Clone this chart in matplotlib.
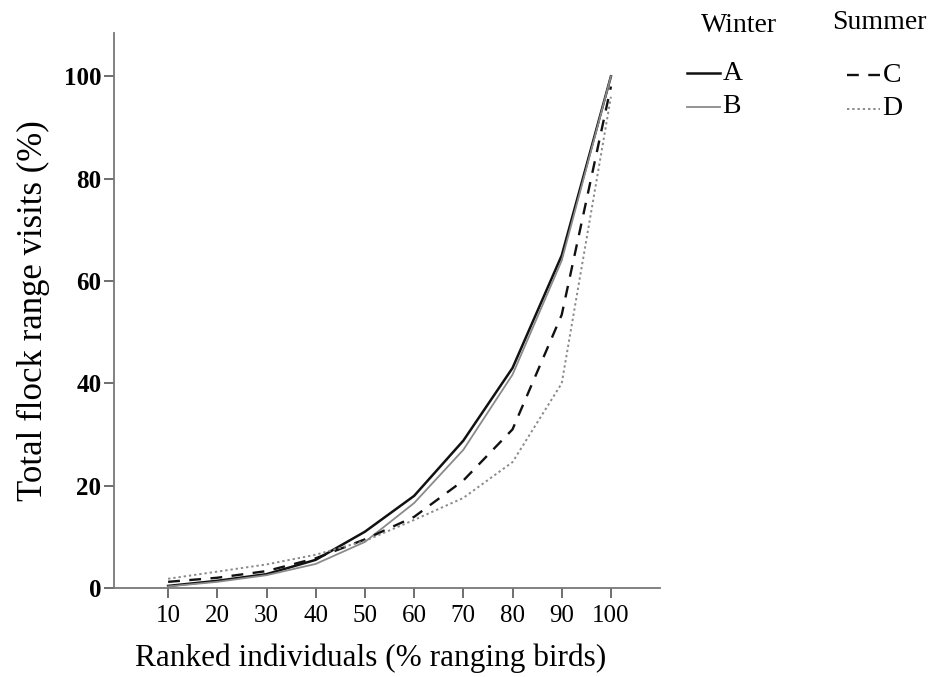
import matplotlib.pyplot as plt
from matplotlib.lines import Line2D

plt.rcParams['font.family'] = ['Liberation Serif', 'DejaVu Serif']

# 鸟类排名百分比
ranked = [10, 20, 30, 40, 50, 60, 70, 80, 90, 100]
# 冬季
winter_a = [0.4, 1.4, 2.7, 5.5, 11, 18, 28.8, 43, 65, 100]
winter_b = [0.3, 1.2, 2.5, 4.7, 9, 16.6, 27, 41.7, 64, 100]
# 夏季
summer_c = [1.2, 2, 3.3, 5.8, 9.5, 13.9, 21, 31, 53.4, 98]
summer_d = [1.8, 3.2, 4.6, 6.5, 9.2, 13.3, 17.6, 24.6, 40, 96]

fig = plt.figure(figsize=(9.32, 6.77), dpi=100)
ax = fig.add_axes([0.1223, 0.1315, 0.586, 0.82])

ax.plot(ranked, winter_a, color='#111111', lw=1.8, label='A')
ax.plot(ranked, winter_b, color='#8a8a8a', lw=1.3, label='B')
ax.plot(ranked, summer_c, color='#111111', lw=1.7, dashes=(5, 4), label='C')
ax.plot(ranked, summer_d, color='#8a8a8a', lw=1.4, dashes=(1.2, 1.5), label='D')

ax.set_xlim(-1, 110)
ax.set_ylim(0, 108.5)
ax.set_xticks(ranked)
ax.set_yticks([0, 20, 40, 60, 80, 100])
ax.tick_params(axis='x', labelsize=18, length=7, width=1.2, color='#555555', pad=5)
ax.tick_params(axis='y', labelsize=18, length=7, width=1.2, color='#555555', pad=2)
for lbl in ax.get_yticklabels():
    lbl.set_fontweight('bold')

for s in ['top', 'right']:
    ax.spines[s].set_visible(False)
for s in ['left', 'bottom']:
    ax.spines[s].set_color('#777777')
    ax.spines[s].set_linewidth(1.3)

ax.set_xlabel('Ranked individuals (% ranging birds)', fontsize=22.5)
ax.xaxis.set_label_coords(0.47, -0.1)
ax.set_ylabel('Total flock range visits (%)', fontsize=25, labelpad=10)

# 图例:冬季/夏季两列
fig.text(0.793, 0.963, 'Winter', fontsize=20, ha='center', va='center')
fig.text(0.944, 0.967, 'Summer', fontsize=20, ha='center', va='center')

def legend_item(x0, y, style, name):
    fig.add_artist(Line2D([x0, x0 + 0.0354], [y, y], transform=fig.transFigure, **style))
    fig.text(x0 + 0.038, y, name, fontsize=20, ha='left', va='center')

legend_item(0.737, 0.892, dict(color='#111111', lw=1.8), 'A')
legend_item(0.737, 0.842, dict(color='#8a8a8a', lw=1.3), 'B')
legend_item(0.909, 0.889, dict(color='#111111', lw=1.7, dashes=(5, 4)), 'C')
legend_item(0.909, 0.839, dict(color='#8a8a8a', lw=1.4, dashes=(1.2, 1.5)), 'D')

fig.savefig('out.png', dpi=100)
